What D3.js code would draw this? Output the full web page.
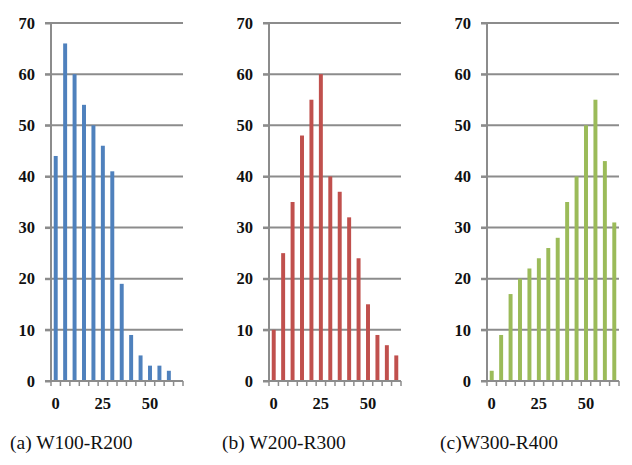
<!DOCTYPE html>
<html>
<head>
<title>Histograms</title>
<script src="https://d3js.org/d3.v7.min.js"></script>
<style>
	body {margin:0; background:white;}
</style>
</head>
<body>
<div id="mydiv"></div>
<script>
// bin starts (x categories)
var bins = [0,5,10,15,20,25,30,35,40,45,50,55,60,65];
var xTickLabels = [0,25,50];
var yTicks = [0,10,20,30,40,50,60,70];

var w100r200 = [44,66,60,54,50,46,41,19,9,5,3,3,2,null];
var w200r300 = [10,25,35,48,55,60,40,37,32,24,15,9,7,5];
var w300r400 = [2,9,17,20,22,24,26,28,35,40,50,55,43,31];

var captions = ["(a) W100-R200","(b) W200-R300","(c)W300-R400"];
var colors = ["#4F81BD","#C0504D","#9BBB59"];
var series = [w100r200, w200r300, w300r400];

var svg = d3.select("#mydiv").append("svg")
	.attr("width",632)
	.attr("height",465);

var panelLeft = [51, 269, 487];
var captionX = [10, 222, 440];
var plotW = 132, plotTop = 23, plotBottom = 381;

var y = d3.scaleLinear().domain([0,70]).range([plotBottom, plotTop]);

series.forEach(function(vals, p) {
	var x = d3.scaleBand().domain(bins).range([panelLeft[p], panelLeft[p]+plotW]).paddingInner(0.58).paddingOuter(0.29);
	var g = svg.append("g");

	// gridlines
	g.selectAll("line.grid").data(yTicks.slice(1)).enter()
		.append("line")
		.attr("x1", panelLeft[p]-6)
		.attr("x2", panelLeft[p]+plotW)
		.attr("y1", function(d){return y(d);})
		.attr("y2", function(d){return y(d);})
		.attr("stroke","#8c8c8c")
		.attr("stroke-width",2);

	// bars
	g.selectAll("rect").data(bins.map(function(b,i){return {bin:b, v:vals[i]};}).filter(function(d){return d.v!=null;}))
		.enter()
		.append("rect")
		.attr("x", function(d){return x(d.bin);})
		.attr("width", x.bandwidth())
		.attr("y", function(d){return y(d.v);})
		.attr("height", function(d){return y(0)-y(d.v);})
		.attr("fill", colors[p]);

	// y axis
	var yAxis = g.append("g")
		.attr("transform","translate("+panelLeft[p]+",0)")
		.call(d3.axisLeft(y).tickValues(yTicks).tickSize(6).tickPadding(10));
	yAxis.select(".domain").attr("stroke","#8c8c8c").attr("stroke-width",2).attr("d","M0,"+plotTop+"V"+plotBottom);
	yAxis.selectAll(".tick line").attr("stroke","#8c8c8c").attr("stroke-width",2);
	yAxis.selectAll("text")
		.attr("font-family","'Liberation Serif', 'Times New Roman', serif")
		.attr("font-weight","bold")
		.attr("font-size","16.5px")
		.attr("fill","#111");

	// x axis line + ticks at bin boundaries
	var xb = d3.scaleLinear().domain([0,bins.length]).range([panelLeft[p], panelLeft[p]+plotW]);
	g.append("line")
		.attr("x1", panelLeft[p]-6).attr("x2", panelLeft[p]+plotW)
		.attr("y1", plotBottom).attr("y2", plotBottom)
		.attr("stroke","#8c8c8c").attr("stroke-width",2);
	g.selectAll("line.xt").data(d3.range(bins.length+1)).enter()
		.append("line")
		.attr("x1", function(d){return xb(d);})
		.attr("x2", function(d){return xb(d);})
		.attr("y1", plotBottom).attr("y2", plotBottom+5)
		.attr("stroke","#8c8c8c").attr("stroke-width",1.5);

	g.selectAll("text.xl").data(xTickLabels).enter()
		.append("text")
		.attr("x", function(d){return x(d)+x.bandwidth()/2;})
		.attr("y", plotBottom+28)
		.attr("text-anchor","middle")
		.attr("font-family","'Liberation Serif', 'Times New Roman', serif")
		.attr("font-weight","bold")
		.attr("font-size","16.5px")
		.attr("fill","#111")
		.text(function(d){return d;});

	svg.append("text")
		.attr("x", captionX[p])
		.attr("y", 449)
		.attr("font-family","'Liberation Serif', 'Times New Roman', serif")
		.attr("font-size","19.5px")
		.attr("fill","#111")
		.text(captions[p]);
});
</script>
</body>
</html>
